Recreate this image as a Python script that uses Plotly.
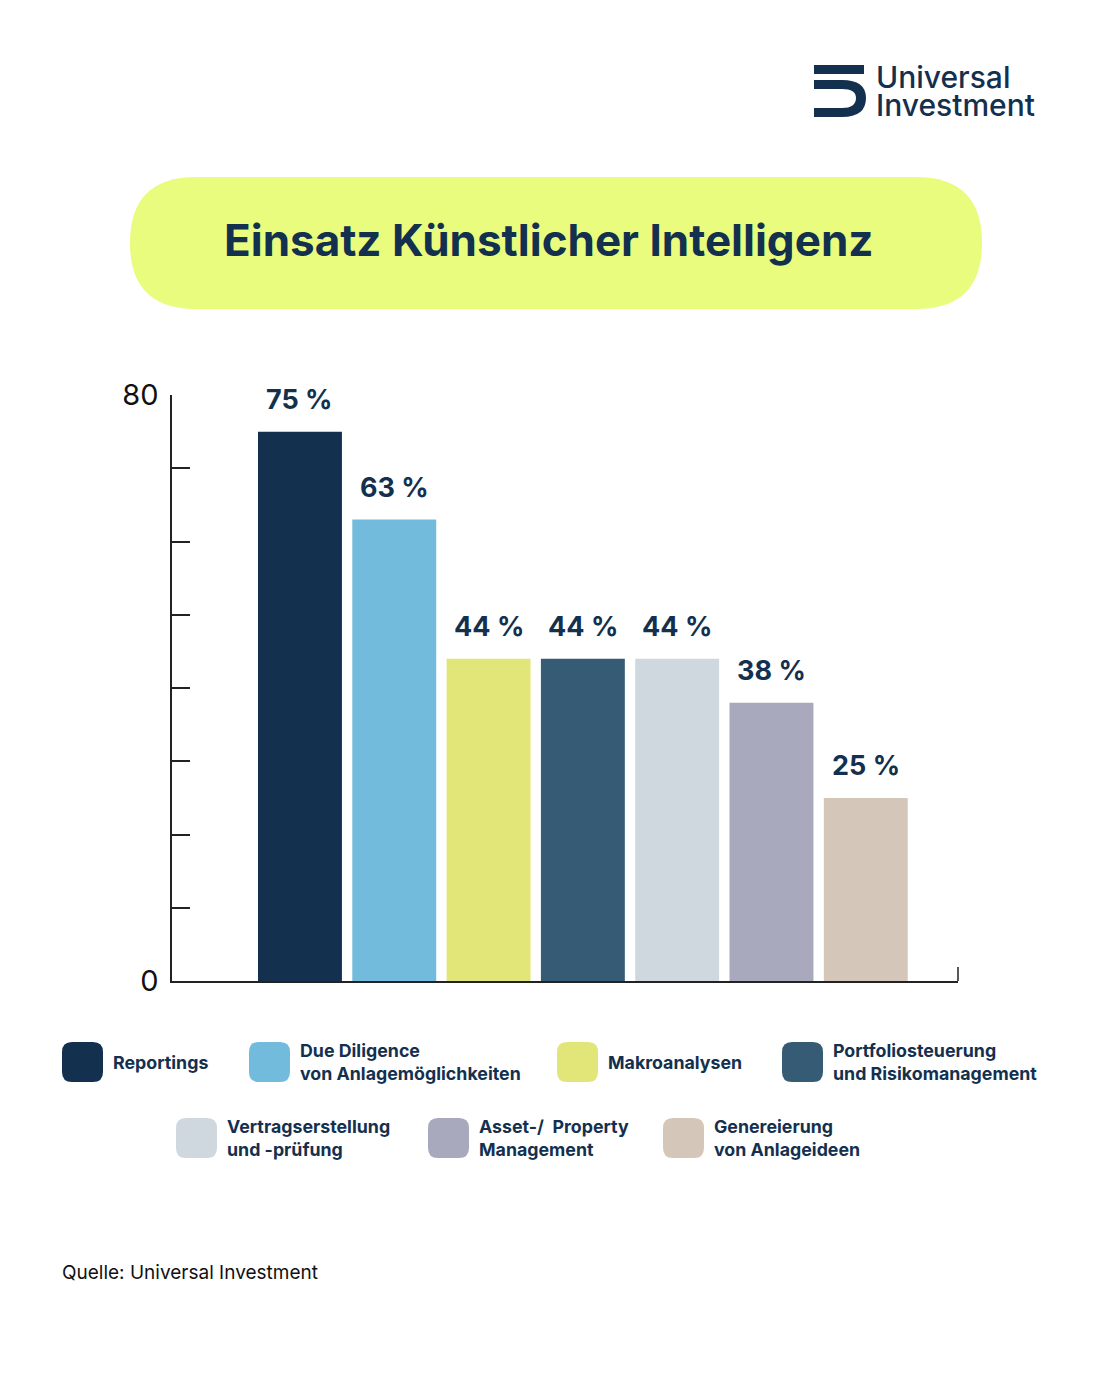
import plotly.graph_objects as go

categories = ["Reportings", "Due Diligence<br>von Anlagemöglichkeiten", "Makroanalysen",
              "Portfoliosteuerung<br>und Risikomanagement", "Vertragserstellung<br>und -prüfung",
              "Asset-/  Property<br>Management", "Genereierung<br>von Anlageideen"]
values = [75, 63, 44, 44, 44, 38, 25]
colors = ["#14304f", "#72bbdc", "#e2e577", "#365b75", "#d0d8df", "#a8a9bd", "#d5c6ba"]
tick_vals = [0, 10, 20, 30, 40, 50, 60, 70, 80]
tick_text = ["0", "", "", "", "", "", "", "", "80"]

W, H = 1110, 1388
NAVY = "#14304f"
FONT = "Inter"
OFF = 8  # page body margin

def px(x):
    return (x - OFF) / W

def py(y):
    return 1 - (y - OFF) / H

def rounded(x0, y0, x1, y1, r):
    # rounded rect path in pixel coords -> paper coords
    pts = (f"M {px(x0+r)},{py(y0)} L {px(x1-r)},{py(y0)} Q {px(x1)},{py(y0)} {px(x1)},{py(y0+r)} "
           f"L {px(x1)},{py(y1-r)} Q {px(x1)},{py(y1)} {px(x1-r)},{py(y1)} "
           f"L {px(x0+r)},{py(y1)} Q {px(x0)},{py(y1)} {px(x0)},{py(y1-r)} "
           f"L {px(x0)},{py(y0+r)} Q {px(x0)},{py(y0)} {px(x0+r)},{py(y0)} Z")
    return pts

fig = go.Figure()
fig.add_trace(go.Bar(
    x=list(range(len(values))), y=values, width=0.89,
    marker=dict(color=colors, line=dict(width=0)),
))

shapes = []
annotations = []

# value labels above bars
for i, v in enumerate(values):
    annotations.append(dict(x=i, y=v, xref="x", yref="y", yanchor="bottom", yshift=14, showarrow=False,
                            text=f"<b>{v} %</b>", font=dict(family=FONT, size=27, color=NAVY)))

# title pill
shapes.append(dict(type="path", xref="paper", yref="paper", path=rounded(130, 177, 982, 309, 66),
                   fillcolor="#e9fc7d", line=dict(width=0), layer="below"))
annotations.append(dict(x=px(548), y=py(240), xref="paper", yref="paper", showarrow=False,
                        yanchor="middle", text="<b>Einsatz Künstlicher Intelligenz</b>",
                        font=dict(family=FONT, size=44, color=NAVY)))

# logo mark
logo = (f"M {px(814)},{py(65)} L {px(864)},{py(65)} L {px(864)},{py(74)} L {px(814)},{py(74)} Z "
        f"M {px(814)},{py(80)} L {px(842)},{py(80)} Q {px(866)},{py(80)} {px(866)},{py(98)} "
        f"Q {px(866)},{py(117)} {px(842)},{py(117)} L {px(814)},{py(117)} L {px(814)},{py(108)} "
        f"L {px(842)},{py(108)} Q {px(856)},{py(108)} {px(856)},{py(98)} Q {px(856)},{py(89)} {px(842)},{py(89)} "
        f"L {px(814)},{py(89)} Z")
shapes.append(dict(type="path", xref="paper", yref="paper", path=logo, fillcolor=NAVY, line=dict(width=0)))
for txt, ly in [("Universal", 77), ("Investment", 105)]:
    annotations.append(dict(x=px(874), y=py(ly), xref="paper", yref="paper", xanchor="left", yanchor="middle",
                            showarrow=False, text=txt,
                            font=dict(family=FONT, size=30, color=NAVY, weight=500)))

# legend
legend_pos = [(62, 1042), (249, 1042), (557, 1042), (782, 1042), (176, 1118), (428, 1118), (663, 1118)]
for (lx, ly), cat, col in zip(legend_pos, categories, colors):
    shapes.append(dict(type="path", xref="paper", yref="paper", path=rounded(lx, ly, lx + 41, ly + 40, 10),
                       fillcolor=col, line=dict(width=0)))
    annotations.append(dict(x=px(lx + 49), y=py(ly + 20), xref="paper", yref="paper", xanchor="left",
                            yanchor="middle", showarrow=False, align="left", text=f"<b>{cat}</b>",
                            font=dict(family=FONT, size=17.8, color=NAVY)))

annotations.append(dict(x=px(60), y=py(1272), xref="paper", yref="paper", xanchor="left", yanchor="middle",
                        showarrow=False, text="Quelle: Universal Investment",
                        font=dict(family=FONT, size=19, color="#111111")))

# small end tick on x axis
shapes.append(dict(type="line", xref="paper", yref="paper", x0=px(958), x1=px(958), y0=py(981), y1=py(967),
                   line=dict(color="#222222", width=1.5)))

fig.update_layout(
    width=W, height=H, margin=dict(l=0, r=0, t=0, b=0, autoexpand=False),
    paper_bgcolor="white", plot_bgcolor="white", showlegend=False,
    shapes=shapes, annotations=annotations,
    xaxis=dict(domain=[px(172), px(958)], range=[-1.357, 6.978], showticklabels=False, ticks="",
               automargin=False, showgrid=False, zeroline=False, showline=True,
               linecolor="#222222", linewidth=1.5),
    yaxis=dict(domain=[py(981), py(395)], range=[0, 80], tickvals=tick_vals, ticktext=tick_text,
               automargin=False, ticks="inside", ticklen=18, tickcolor="#222222", tickwidth=1.5,
               ticklabelstandoff=6, showgrid=False, zeroline=False, showline=True,
               linecolor="#222222", linewidth=1.5,
               tickfont=dict(family=FONT, size=29, color="#111111")),
)

fig.write_html("out.html")
